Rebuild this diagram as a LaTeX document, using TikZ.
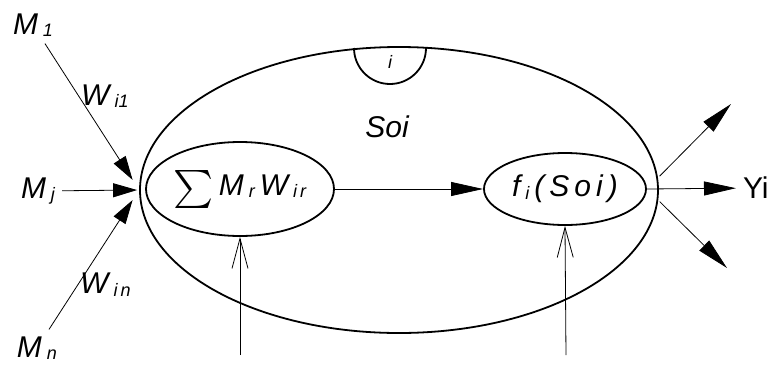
\documentclass[tikz,border=0pt]{standalone}
\usepackage{fontspec}
\setmainfont{Liberation Sans}
\usepackage{tikz}
\usetikzlibrary{arrows.meta,shapes.geometric}
\newcommand{\sub}[1]{\,\raisebox{-0.15ex}{\small #1}}

\begin{document}
\begin{tikzpicture}[x=0.5pt,y=-0.5pt,font=\fontsize{15}{18}\selectfont\itshape,
ring/.style={draw,ellipse,line width=0.9pt,inner sep=0pt},
tri/.style={-{Triangle[length=16pt,width=7pt]},line width=0.4pt},
tris/.style={-{Triangle[length=12pt,width=7pt]},line width=0.4pt},
barb/.style={-{Straight Barb[length=15pt,width=8pt]},line width=0.4pt}]
\useasboundingbox (0,0) rectangle (768,365);
\node[ring,minimum width=259pt,minimum height=143pt] (soi) at (399,190) {};
\node[ring,minimum width=94pt,minimum height=47pt] (sum) at (240,189) {\raisebox{-0.45ex}{\scalebox{1.9}{$\sum$}}\,M\sub{r}\,W\sub{i\,r}};
\node[ring,minimum width=81pt,minimum height=36pt] (f) at (565,189) {f\sub{i}\,(\,S\,o\,i\,)};
\draw[line width=0.9pt] (354,48) arc[start angle=180,end angle=0,radius=36];
\node (i) at (390,62) {\small i};
\node (s) at (387,127) {Soi};
\node (m1) at (33,25) {M\sub{1}};
\node (mj) at (38,191) {M\sub{j}};
\node (mn) at (37,348) {M\sub{n}};
\node[anchor=west,font=\fontsize{15}{18}\selectfont\upshape] (y) at (736,188) {Yi};
\coordinate (up) at (731,104);
\coordinate (dn) at (727,268);
\coordinate (b1) at (240,355);
\coordinate (b2) at (566,355);
\path[tris]
(m1) edge[shorten >=6pt] node[pos=0.36,right,inner sep=1pt]{W\sub{i1}} (soi.west)
(mj) edge[shorten >=1pt] (soi.west)
(mn) edge[shorten >=6pt] node[pos=0.32,right,inner sep=1pt]{W\sub{i\,n}} (soi.west);
\path[tri]
(sum) edge (f)
(f.east) edge (y)
(f.east) edge[shorten <=9pt] (up)
(f.east) edge[shorten <=9pt] (dn);
\path[barb]
(b1) edge (sum.south)
(b2) edge (f.south);
\end{tikzpicture}
\end{document}
